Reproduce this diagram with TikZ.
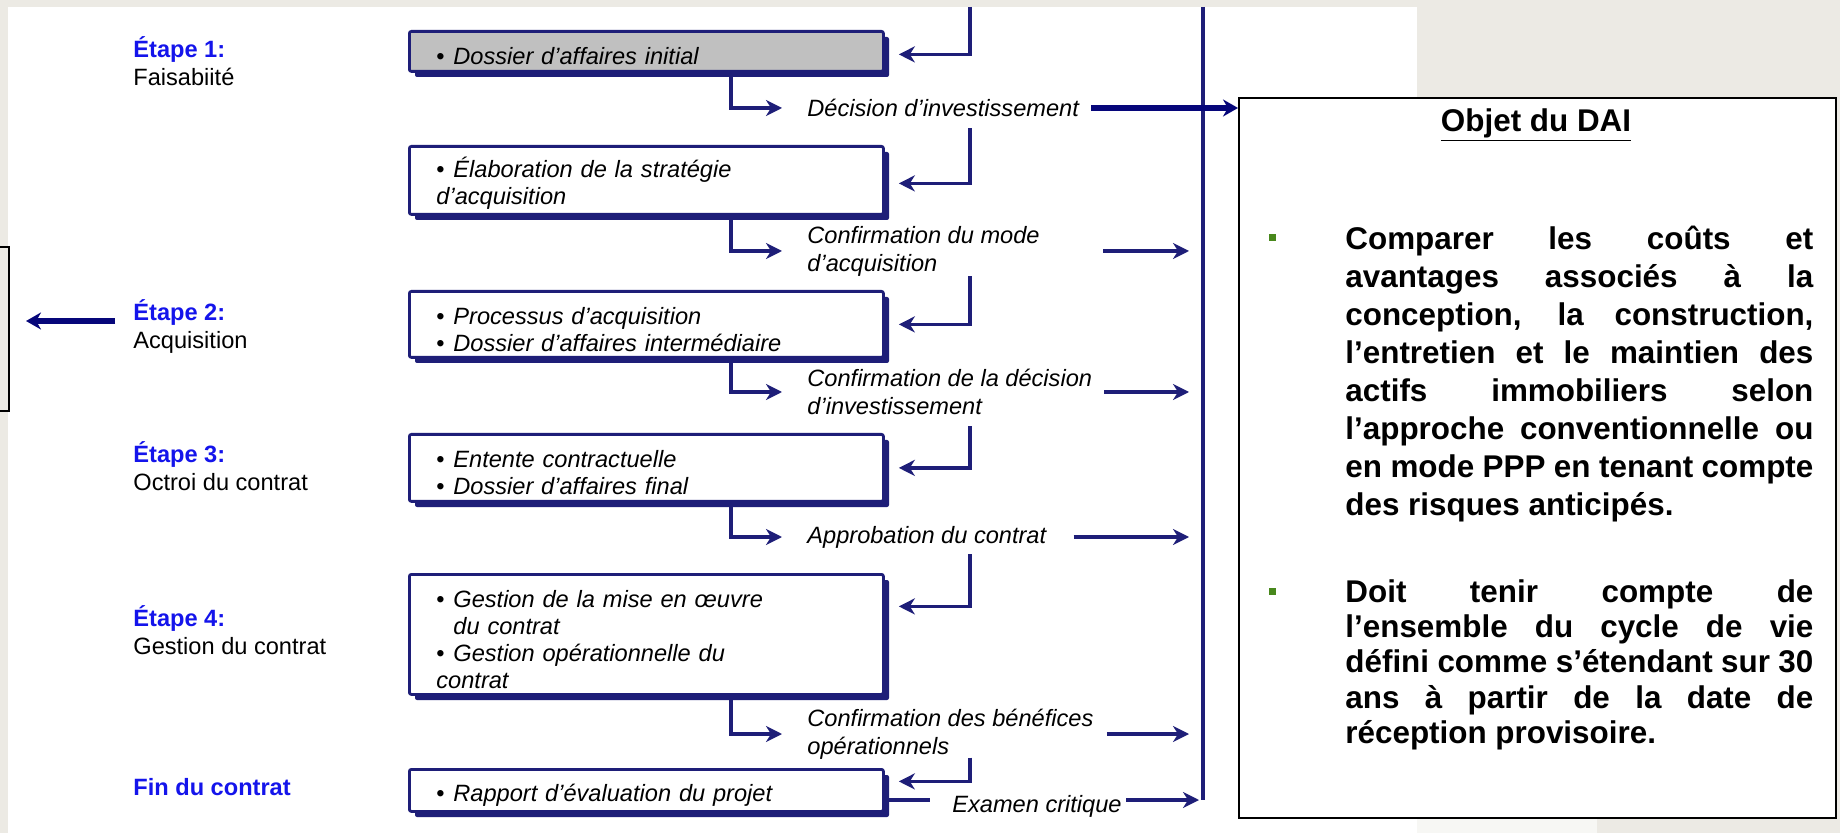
\documentclass[tikz,border=0pt]{standalone}
\usepackage{fontspec}
\setmainfont{Liberation Sans}
\usetikzlibrary{arrows.meta,shadows,calc}

\definecolor{pagebg}{RGB}{236,234,228}
\definecolor{navy}{RGB}{30,30,120}
\definecolor{deepnavy}{RGB}{6,6,122}
\definecolor{boxgrey}{RGB}{192,192,192}
\definecolor{stepblue}{RGB}{20,20,235}
\definecolor{bulletgreen}{RGB}{72,136,28}

% bullet item with a hanging indent, used inside the process boxes
\newcommand{\procitem}[1]{\par\hangindent=8.5pt\hangafter=1\noindent
  \makebox[8.5pt][l]{\upshape\textbullet}#1}
\newcommand{\stepname}[1]{\textcolor{stepblue}{\bfseries #1}}
% one fully justified line of the side panel (natural word spaces, stretched)
\newcommand{\jl}[1]{{\spaceskip=0pt\xspaceskip=0pt\makebox[234pt][s]{#1}}}

\begin{document}
\begin{tikzpicture}[x=0.5pt,y=-0.5pt,
  procbox/.style={draw=navy, line width=1.4pt, fill=white, rounded corners=1pt,
    anchor=north west, minimum width=237pt, text width=210pt, inner xsep=13.5pt,
    inner ysep=0pt, align=left, font=\fontsize{11.8}{13.5}\selectfont\itshape,
    drop shadow={shadow xshift=2.8pt, shadow yshift=-2.8pt, fill=navy, opacity=1}},
  lbl/.style={anchor=west, align=left, inner sep=0pt,
    font=\fontsize{11.8}{14}\selectfont\itshape},
  steplbl/.style={anchor=west, align=left, inner sep=0pt,
    font=\fontsize{11.8}{14}\selectfont},
  flow/.style={draw=navy, line width=1.65pt,
    -{Stealth[length=8pt,width=8pt,inset=2.5pt]}},
  bigflow/.style={draw=deepnavy, line width=2.6pt,
    -{Stealth[length=7.5pt,width=8.5pt]}},
  bus/.style={draw=navy, line width=1.8pt},
  rtext/.style={anchor=north west, inner sep=0pt, text width=234pt, align=justify},
  gsq/.style={fill=bulletgreen, minimum size=3.5pt, inner sep=0pt}
]
\useasboundingbox (0,0) rectangle (1840,833);

% page and white sheet
\fill[pagebg] (0,0) rectangle (1840,833);
\fill[white] (8,7) rectangle (1417,833);
\fill[white!60!pagebg] (1417,818) rectangle (1597,833);

% guide positions
\coordinate (top) at (0,7);
\coordinate (colL) at (731,0);
\coordinate (colR) at (970,0);
\coordinate (colB) at (1203,0);
\coordinate (exline) at (0,800);

% partly visible frame on the left edge
\node[draw=black, line width=0.8pt, fill=pagebg, anchor=north east,
  minimum width=20pt, minimum height=82pt, inner sep=0pt] (lbox) at (10,246) {};

% stage labels
\node[steplbl] (e1) at (133,61) {\stepname{Étape 1:}\\Faisabiité};
\node[steplbl] (e2) at (133,326) {\stepname{Étape 2:}\\Acquisition};
\node[steplbl] (e3) at (133,466) {\stepname{Étape 3:}\\Octroi du contrat};
\node[steplbl] (e4) at (133,630) {\stepname{Étape 4:}\\Gestion du contrat};
\node[steplbl] (e5) at (133,787) {\stepname{Fin du contrat}};

% process boxes
\node[procbox, fill=boxgrey, minimum height=20pt] (b1) at (408,30)
  {\procitem{Dossier d’affaires initial}};
\node[procbox, minimum height=34pt] (b2) at (408,145)
  {\procitem{Élaboration de la stratégie\newline d’acquisition}};
\node[procbox, minimum height=33pt] (b3) at (408,290)
  {\procitem{Processus d’acquisition}\procitem{Dossier d’affaires intermédiaire}};
\node[procbox, minimum height=33.5pt] (b4) at (408,433)
  {\procitem{Entente contractuelle}\procitem{Dossier d’affaires final}};
\node[procbox, minimum height=60pt] (b5) at (408,573)
  {\procitem{Gestion de la mise en œuvre\newline du contrat}\procitem{Gestion opérationnelle du\newline contrat}};
\node[procbox, minimum height=21pt] (b6) at (408,768)
  {\procitem{Rapport d’évaluation du projet}};

% decision labels
\node[lbl] (dec) at (807,108) {Décision d’investissement};
\node[lbl] (cmode) at (807,251) {Confirmation du mode\\d’acquisition};
\node[lbl] (cdec) at (807,392) {Confirmation de la décision\\d’investissement};
\node[lbl] (appr) at (807,537) {Approbation du contrat};
\node[lbl] (cben) at (807,734) {Confirmation des bénéfices\\opérationnels};
\node[lbl] (exam) at (952,806) {Examen critique};

% side panel
\node[draw=black, line width=1pt, fill=white, anchor=north west,
  minimum width=298.5pt, minimum height=360pt, inner sep=0pt] (rbox) at (1238,97) {};
\node[font=\fontsize{15.7}{18}\selectfont\bfseries, inner sep=0pt] (rtitle) at (1536,125)
  {\underline{Objet du DAI}};
\node[gsq] (g1) at (1272,238) {};
\node[rtext, font=\fontsize{15.7}{19}\selectfont\bfseries] (p1) at (1345,223)
  {\rule{0pt}{13pt}\jl{Comparer les coûts et}\\
  \jl{avantages associés à la}\\
  \jl{conception, la construction,}\\
  \jl{l’entretien et le maintien des}\\
  \jl{actifs immobiliers selon}\\
  \jl{l’approche conventionnelle ou}\\
  \jl{en mode PPP en tenant compte}\\
  des risques anticipés.};
\node[gsq] (g2) at (1272,591) {};
\node[rtext, font=\fontsize{15.7}{17.6}\selectfont\bfseries] (p2) at (1345,576)
  {\rule{0pt}{13pt}\jl{Doit tenir compte de}\\
  \jl{l’ensemble du cycle de vie}\\
  \jl{défini comme s’étendant sur 30}\\
  \jl{ans à partir de la date de}\\
  réception provisoire.};

% return bus
\draw[bus] (top -| colB) -- (colB |- exline);

% incoming flows into the boxes
\coordinate (in2) at ($(dec.south -| colR)+(0,11)$);
\coordinate (in3) at ($(cmode.south -| colR)+(0,0)$);
\coordinate (in4) at ($(cdec.south -| colR)+(0,11)$);
\coordinate (in5) at ($(appr.south -| colR)+(0,6)$);
\coordinate (in6) at ($(cben.south -| colR)+(0,-2)$);
\draw[flow, shorten >=7pt] (top -| colR) |- ([yshift=-1.5pt]b1.east);
\draw[flow, shorten >=7pt] (in2) |- ([yshift=-1.5pt]b2.east);
\draw[flow, shorten >=7pt] (in3) |- (b3.east);
\draw[flow, shorten >=7pt] (in4) |- (b4.east);
\draw[flow, shorten >=7pt] (in5) |- ([yshift=14pt]b5.east);
\draw[flow, shorten >=7pt] (in6) |- ([yshift=4.5pt]b6.east);

% outgoing flows from the boxes to the decisions
\draw[flow, shorten >=12.5pt] (b1.south -| colL) |- (dec.west);
\draw[flow, shorten >=12.5pt] (b2.south -| colL) |- (cmode.west);
\draw[flow, shorten >=12.5pt] (b3.south -| colL) |- (cdec.west);
\draw[flow, shorten >=12.5pt] (b4.south -| colL) |- (appr.west);
\draw[flow, shorten >=12.5pt] (b5.south -| colL) |- (cben.west);

% decisions feeding the bus
\draw[flow, shorten >=7pt] ([xshift=31.5pt]cmode.east) -- (cmode.east -| colB);
\draw[flow, shorten >=7pt] ([xshift=6pt]cdec.east) -- (cdec.east -| colB);
\draw[flow, shorten >=7pt] ([xshift=13.5pt]appr.east) -- (appr.east -| colB);
\draw[flow, shorten >=7pt] ([xshift=6.5pt]cben.east) -- (cben.east -| colB);
\draw[draw=navy, line width=1.65pt, shorten >=11pt] (b6.east |- exline) -- (exam.west |- exline);
\draw[flow, shorten <=2pt, shorten >=2pt] (exam.east |- exline) -- (colB |- exline);

% heavy arrows
\draw[bigflow] ([xshift=6pt]dec.east) -- (dec.east -| rbox.west);
\coordinate (e2tail) at ($(e2.west)+(-18,-5)$);
\draw[bigflow, shorten >=8pt] (e2tail) -- (e2tail -| lbox.east);
\end{tikzpicture}
\end{document}
